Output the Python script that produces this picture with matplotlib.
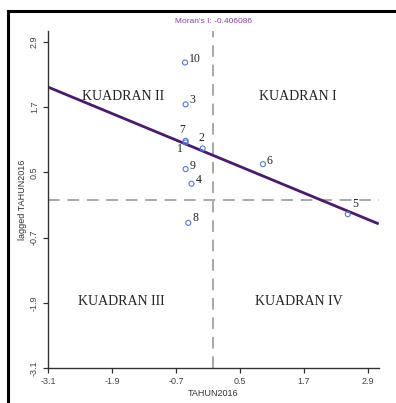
import matplotlib
matplotlib.use("Agg")
import matplotlib.pyplot as plt
from matplotlib.lines import Line2D
import numpy as np

# ---- data ----
region_ids = ["1", "2", "3", "4", "5", "6", "7", "8", "9", "10"]
tahun2016 = [-0.52, -0.20, -0.52, -0.41, 2.52, 0.93, -0.52, -0.47, -0.52, -0.53]
lagged_tahun2016 = [1.05, 0.94, 1.75, 0.29, -0.27, 0.65, 1.08, -0.43, 0.56, 2.52]
moran_i = -0.406086
reg_intercept = 0.81
tick_values = [-3.1, -1.9, -0.7, 0.5, 1.7, 2.9]
tick_labels = ["-3.1", "-1.9", "-0.7", "0.5", "1.7", "2.9"]
quadrant_names = ["KUADRAN I", "KUADRAN II", "KUADRAN III", "KUADRAN IV"]

# ---- layout / style ----
W, H = 396, 403
fig = plt.figure(figsize=(W / 100, H / 100), dpi=100)
ax = fig.add_axes([48 / W, 1 - 368 / H, 330.7 / W, 337 / H])
ax.set_xlim(-3.1, 3.1)
ax.set_ylim(-3.1, 3.1)

# reference dashed lines
ax.axvline(0, color="#a8a8a8", lw=1.4, dashes=(6, 4), zorder=1)
ax.axhline(0, color="#a8a8a8", lw=1.4, dashes=(6, 4), zorder=1)

# regression line
xs = np.array(ax.get_xlim())
ax.plot(xs, reg_intercept + moran_i * xs, color="#4a1a6e", lw=2.0, zorder=2,
        solid_capstyle="butt")

# points
ax.scatter(tahun2016, lagged_tahun2016, s=13, facecolors="none",
           edgecolors="#5577d6", linewidths=0.8, zorder=3)

label_offsets = {
    "1": (-6, -7, "center"), "2": (-1, 10, "center"), "3": (4, 4, "left"),
    "4": (4, 4, "left"), "5": (7, 10, "center"), "6": (4, 3, "left"),
    "7": (-3, 11, "center"), "8": (4, 5, "left"), "9": (4, 3, "left"),
    "10": (4, 4, "left"),
}
for lab, xv, yv in zip(region_ids, tahun2016, lagged_tahun2016):
    dx, dy, ha = label_offsets[lab]
    ax.annotate(lab, (xv, yv), xytext=(dx, dy), textcoords="offset pixels",
                ha=ha, va="center", fontsize=8.5, family="Liberation Serif",
                color="#222222")

# quadrant labels
quad_pos = [(1.59, 1.90), (-1.69, 1.90), (-1.72, -1.87), (1.60, -1.87)]
for name, (qx, qy) in zip(quadrant_names, quad_pos):
    ax.text(qx, qy, name, ha="center", va="center", fontsize=10,
            family="Liberation Serif", color="#222222")

# axes styling
for s in ["top", "right"]:
    ax.spines[s].set_visible(False)
for s in ["left", "bottom"]:
    ax.spines[s].set_color("#333333")
    ax.spines[s].set_linewidth(1.0)
ax.set_xticks(tick_values)
ax.set_xticklabels(tick_labels)
ax.set_yticks(tick_values)
ax.set_yticklabels(tick_labels, rotation=90, va="center")
ax.tick_params(axis="both", length=3.5, width=0.9, color="#333333",
               labelsize=6.5, labelcolor="#444444", pad=3)
for t in ax.get_xticklabels() + ax.get_yticklabels():
    t.set_family("Liberation Sans")

ax.set_xlabel("TAHUN2016", fontsize=6.5, family="Liberation Sans",
              color="#333333", labelpad=2)
ax.set_ylabel("lagged TAHUN2016", fontsize=6.5, family="Liberation Sans",
              color="#333333", labelpad=2)
ax.set_title(f"Moran's I: {moran_i}", fontsize=6, family="Liberation Sans",
             color="#8a3fa6", pad=6)

# outer frame (top and left edges)
fig.add_artist(Line2D([7.5 / W, 1.0], [1 - 11 / H, 1 - 11 / H],
                      transform=fig.transFigure, color="black", lw=2.2))
fig.add_artist(Line2D([7.5 / W, 7.5 / W], [0, 1 - 11 / H],
                      transform=fig.transFigure, color="black", lw=2.2))

fig.savefig("out.png", dpi=100)
